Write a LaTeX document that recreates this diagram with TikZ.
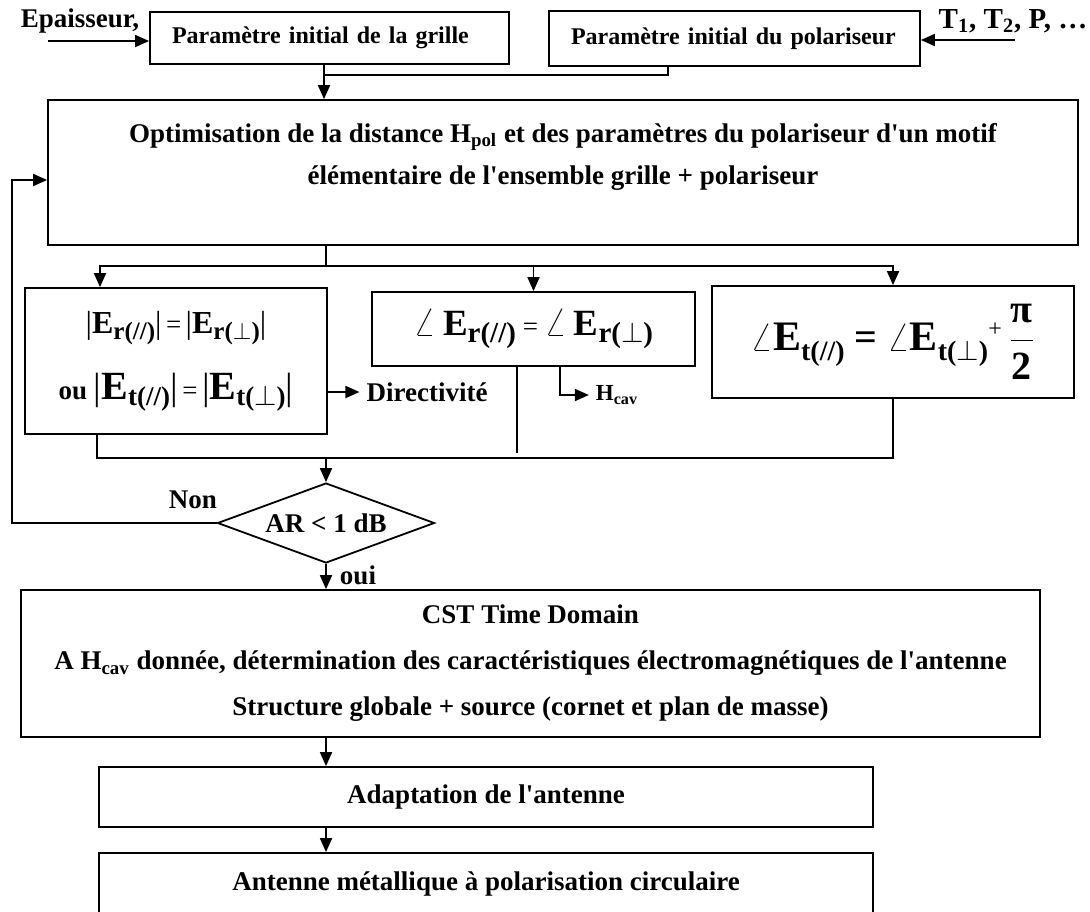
\documentclass[tikz,border=0pt]{standalone}
\usepackage{fontspec}
\setmainfont{Liberation Serif}[Ligatures=TeXOff]
\usetikzlibrary{arrows.meta,shapes.geometric}
\newcommand{\fld}[3]{{\fontsize{#1}{#1}\selectfont E}\raisebox{-.5ex}{\fontsize{#2}{#2}\selectfont #3}}
\newcommand{\modbar}[1]{{\mdseries\fontsize{#1}{#1}\selectfont|}}
\newcommand{\ang}[1]{{\fontsize{#1}{#1}\selectfont$\angle$}}

\begin{document}
\begin{tikzpicture}[x=0.5pt,y=-0.5pt]
\tikzset{every node/.style={font=\fontsize{13.5}{16}\selectfont\bfseries}}
\tikzset{box/.style={draw,line width=0.9pt,inner sep=0pt,align=center}}
\tikzset{small/.style={font=\fontsize{12}{14}\selectfont\bfseries}}
\tikzset{link/.style={line width=0.9pt}}
\tikzset{flow/.style={line width=0.9pt,-{Triangle[length=7pt,width=6pt]}}}
\useasboundingbox (0,0) rectangle (1090,911);

\node[box,small,minimum width=179.5pt,minimum height=26pt,text width=157.5pt,align=left] (grille) at (329.5,38) {Paramètre initial de la grille};
\node[box,small,minimum width=185.5pt,minimum height=27.5pt,text width=163.5pt,align=left] (polar) at (734.5,38.5) {Paramètre initial du polariseur};
\node (epais) at (80,21) {Epaisseur,};
\node[font=\fontsize{14.5}{16}\selectfont\bfseries] (tlist) at (1013,21) {T\textsubscript{1}, T\textsubscript{2}, P, …};

\node[box,minimum width=515pt,minimum height=72.5pt] (optim) at (563,172.5) {};
\node[align=center,font=\fontsize{13.5}{21}\selectfont\bfseries] (optimtxt) at (563,157)
  {Optimisation de la distance H\textsubscript{pol} et des paramètres du polariseur d'un motif\\
   élémentaire de l'ensemble grille + polariseur};

\node[box,minimum width=151pt,minimum height=73pt,font=\fontsize{13.5}{33}\selectfont\bfseries] (boxL) at (176,361)
  {\modbar{16}\fld{16}{12.5}{r(//)}\modbar{16}\,{\mdseries=}\,\modbar{16}\fld{16}{12.5}{r($\perp$)}\modbar{16}\\
   ou \modbar{19}\fld{20}{13.5}{t(//)}\modbar{19}\,{\mdseries=}\,\modbar{19}\fld{20}{13.5}{t($\perp$)}\modbar{19}};
\node[box,minimum width=161.5pt,minimum height=37pt] (boxM) at (533.5,329)
  {\ang{22} \fld{18.5}{14.5}{r(//)} {\mdseries=} \ang{22} \fld{18.5}{14.5}{r($\perp$)}};
\node[box,minimum width=181pt,minimum height=56pt] (boxR) at (893,342)
  {{\fontsize{20}{20}\selectfont$\angle$\fld{21}{14}{t(//)} = $\angle$\fld{21}{14}{t($\perp$)}}%
   \raisebox{1.2ex}{\mdseries\fontsize{12}{12}\selectfont +}
   {\fontsize{20}{20}\selectfont$\displaystyle\frac{\mbox{π}}{\mbox{2}}$}};
\node (dir) at (427,392) {Directivité};
\node[font=\fontsize{11.5}{12}\selectfont\bfseries] (hcav) at (617,395) {H\textsubscript{cav}};

\node[box,diamond,aspect=2.7,minimum width=108.5pt,minimum height=40pt] (ar) at (326,523) {AR < 1 dB};
\node (non) at (193,500) {Non};
\node (oui) at (358,575) {oui};

\node[box,minimum width=509.5pt,minimum height=73.5pt,font=\fontsize{13.5}{23}\selectfont\bfseries] (cst) at (530.5,663.5)
  {CST Time Domain\\
   A H\textsubscript{cav} donnée, détermination des caractéristiques électromagnétiques de l'antenne\\
   Structure globale + source (cornet et plan de masse)};
\node[box,minimum width=387pt,minimum height=30pt] (adapt) at (486,797) {Adaptation de l'antenne};
\node[box,minimum width=387pt,minimum height=31pt] (final) at (486,884) {Antenne métallique à polarisation circulaire};

\coordinate (epin) at (48,41);
\draw[flow] (epin) -- (epin -| grille.west);
\coordinate (tin) at (1015,40);
\draw[flow] (tin) -- (tin -| polar.east);
\coordinate (gj) at (324,0);
\draw[flow] (gj |- grille.south) -- (gj |- optim.north);
\coordinate (pj) at (668,75);
\draw[link] (pj |- polar.south) -- (pj) -- (pj -| gj);

\coordinate (fb) at (12,180);
\draw[flow] (ar.west) -| (fb) -- (fb -| optim.west);

\coordinate (split) at (326,266);
\coordinate (jL) at (100,266);
\draw[link] (split |- optim.south) -- (split);
\draw[flow] (split) -| (boxR.north);
\draw[flow] (split) -- (jL) -- (jL |- boxL.north);
\draw[flow] (boxM.north |- split) -- (boxM.north);

\draw[flow] (boxL.east |- dir) -- (dir.west);
\coordinate (hc) at (560,0);
\draw[flow] (hc |- boxM.south) |- (hcav.west);
\coordinate (ml) at (517,453);
\draw[link] (ml |- boxM.south) -- (ml);

\coordinate (jB) at (97,458);
\draw[link] (jB |- boxL.south) -- (jB) -| (boxR.south);
\draw[flow] (ar.north |- jB) -- (ar.north);

\draw[flow] (ar.south) -- (ar.south |- cst.north);
\draw[flow] (ar.south |- cst.south) -- (ar.south |- adapt.north);
\draw[flow] (ar.south |- adapt.south) -- (ar.south |- final.north);
\end{tikzpicture}
\end{document}
